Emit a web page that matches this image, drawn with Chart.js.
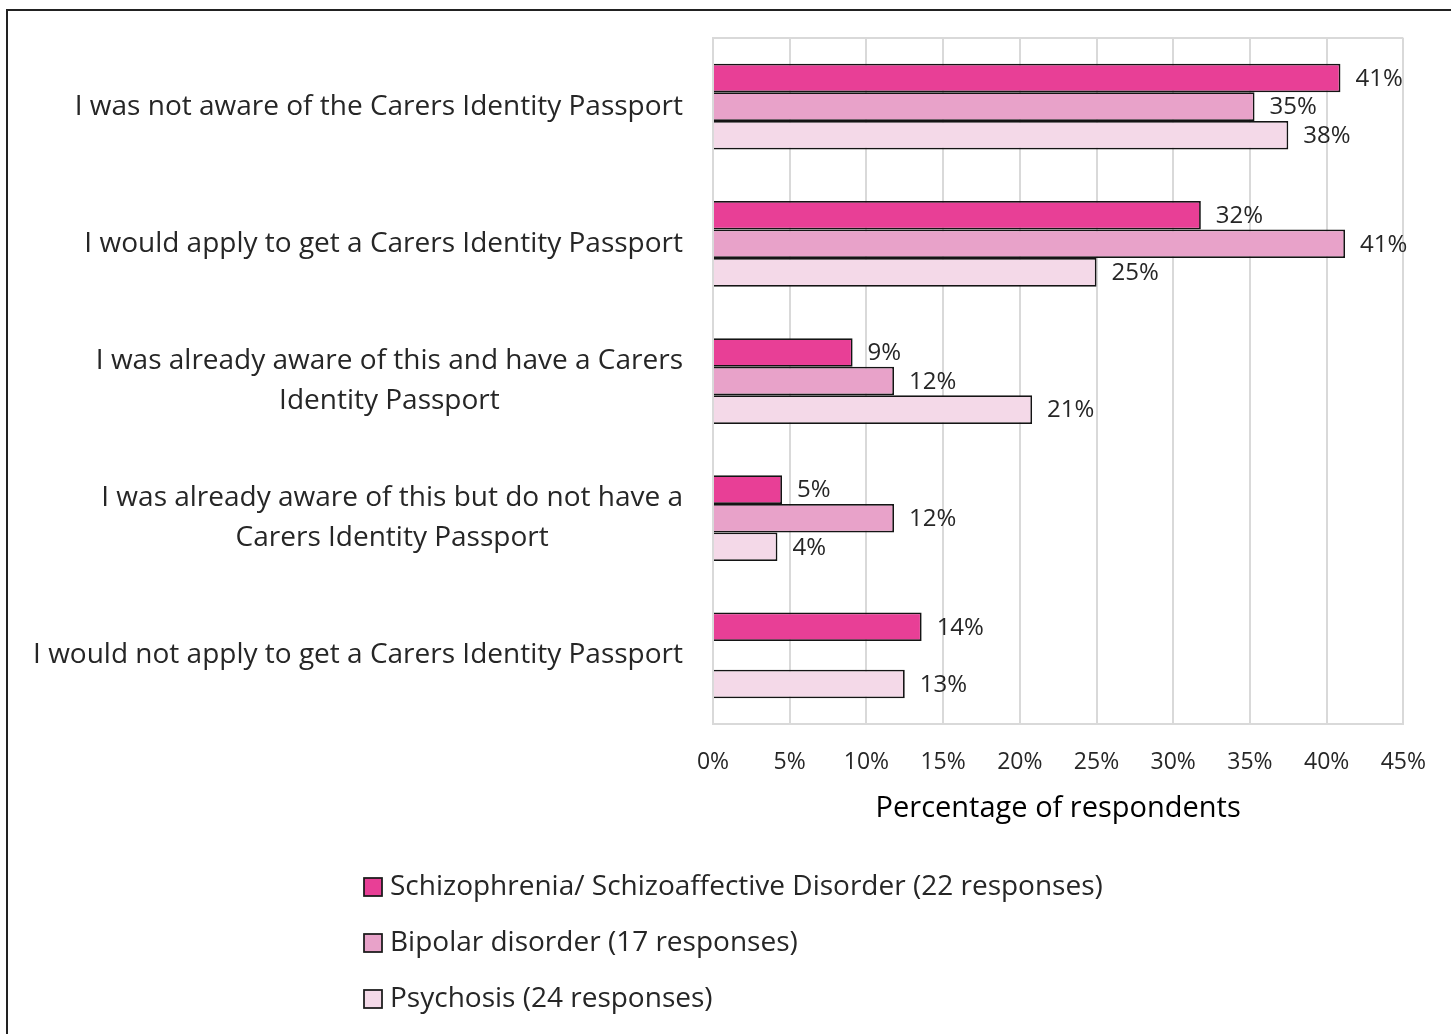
<!DOCTYPE html>
<html lang="en">
<head>
<meta charset="UTF-8">
<title>Carers Identity Passport</title>
<script src="https://cdn.jsdelivr.net/npm/chart.js"></script>
<style>
  body { margin: 0; background: #ffffff; }
  .wrap { position: relative; width: 1451px; height: 1034px; overflow: hidden; }
  .frame { position: absolute; left: 6px; top: 9px; width: 1500px; height: 1100px; border: 2px solid #222222; }
  canvas { position: absolute; left: 0; top: 0; }
</style>
</head>
<body>
<div class="wrap">
  <div class="frame"></div>
  <canvas id="passportChart" width="1451" height="1034"></canvas>
</div>
<script>
// answers, top to bottom; multi-line entries are arrays
const categories = [
  'I was not aware of the Carers Identity Passport',
  'I would apply to get a Carers Identity Passport',
  ['I was already aware of this and have a Carers', 'Identity Passport'],
  ['I was already aware of this but do not have a', 'Carers Identity Passport'],
  'I would not apply to get a Carers Identity Passport'
];

const seriesNames = [
  'Schizophrenia/ Schizoaffective Disorder (22 responses)',
  'Bipolar disorder (17 responses)',
  'Psychosis (24 responses)'
];

// percentage of respondents in each group
const schizophrenia = [40.9, 31.8, 9.1, 4.5, 13.6];
const bipolar = [35.3, 41.2, 11.8, 11.8, null];
const psychosis = [37.5, 25.0, 20.8, 4.2, 12.5];

const xTicks = [0, 5, 10, 15, 20, 25, 30, 35, 40, 45];

const FONT = "'Open Sans', 'Noto Sans', sans-serif";
const TEXT = '#262626';
const GRID = '#d9d9d9';

// grey frame around the plot area (top edge is not drawn by any axis)
const plotFrame = {
  id: 'plotFrame',
  beforeDatasetsDraw(chart) {
    const { ctx, chartArea: a } = chart;
    ctx.save();
    ctx.strokeStyle = GRID;
    ctx.lineWidth = 2;
    ctx.beginPath();
    ctx.moveTo(a.left, a.top);
    ctx.lineTo(a.right, a.top);
    ctx.stroke();
    ctx.restore();
  }
};

// category labels: block right-aligned to the axis, lines centred inside the block
const categoryLabels = {
  id: 'categoryLabels',
  afterDraw(chart) {
    const { ctx, chartArea } = chart;
    const yScale = chart.scales.y;
    const lineHeight = 40;
    ctx.save();
    ctx.font = '28px ' + FONT;
    ctx.fillStyle = TEXT;
    ctx.textAlign = 'center';
    ctx.textBaseline = 'middle';
    chart.data.labels.forEach((label, i) => {
      const lines = Array.isArray(label) ? label : [label];
      const y = yScale.getPixelForTick(i);
      const maxW = Math.max(...lines.map(l => ctx.measureText(l).width));
      const cx = chartArea.left - 30 - maxW / 2;
      lines.forEach((line, k) => {
        ctx.fillText(line, cx, y - (lines.length - 1) * lineHeight / 2 + k * lineHeight);
      });
    });
    ctx.restore();
  }
};

// value labels at the end of each bar
const valueLabels = {
  id: 'valueLabels',
  afterDatasetsDraw(chart) {
    const { ctx } = chart;
    ctx.save();
    ctx.font = '24px ' + FONT;
    ctx.fillStyle = TEXT;
    ctx.textAlign = 'left';
    ctx.textBaseline = 'middle';
    chart.data.datasets.forEach((ds, di) => {
      chart.getDatasetMeta(di).data.forEach((bar, i) => {
        const v = ds.data[i];
        if (v === null) return;
        ctx.fillText(Math.round(v) + '%', bar.x + 15, bar.y + 1);
      });
    });
    ctx.restore();
  }
};

// stacked legend under the axis title
const stackedLegend = {
  id: 'stackedLegend',
  afterDraw(chart, args, opts) {
    const { ctx } = chart;
    ctx.save();
    ctx.font = '28px ' + FONT;
    ctx.textBaseline = 'middle';
    ctx.textAlign = 'left';
    chart.data.datasets.forEach((ds, i) => {
      const y = opts.top + i * opts.spacing;
      ctx.fillStyle = ds.backgroundColor;
      ctx.fillRect(opts.left, y - 9, 18, 18);
      ctx.strokeStyle = '#1a1a1a';
      ctx.lineWidth = 1.75;
      ctx.strokeRect(opts.left, y - 9, 18, 18);
      ctx.fillStyle = TEXT;
      ctx.fillText(ds.label, opts.left + 26, y);
    });
    ctx.restore();
  }
};

const seriesData = [schizophrenia, bipolar, psychosis];
const seriesColors = ['#e83f96', '#e8a2c9', '#f4d9e8'];

new Chart(document.getElementById('passportChart'), {
  type: 'bar',
  data: {
    labels: categories,
    datasets: seriesNames.map((name, i) => ({
      label: name,
      data: seriesData[i],
      backgroundColor: seriesColors[i],
      borderColor: '#141414',
      borderWidth: 1.75,
      categoryPercentage: 0.625,
      barPercentage: 1.0
    }))
  },
  options: {
    indexAxis: 'y',
    responsive: false,
    animation: false,
    devicePixelRatio: 1,
    layout: { padding: { left: 713, right: 46, top: 38, bottom: 200 } },
    plugins: {
      legend: { display: false },
      tooltip: { enabled: false },
      stackedLegend: { left: 364, top: 887, spacing: 56 }
    },
    scales: {
      x: {
        min: 0,
        max: 45,
        afterBuildTicks(scale) {
          scale.ticks = xTicks.map(v => ({ value: v }));
        },
        afterFit(scale) {
          scale.height = 110;
        },
        ticks: {
          callback: v => v + '%',
          color: TEXT,
          font: { family: FONT, size: 23 },
          padding: 25
        },
        grid: { color: GRID, lineWidth: 2, drawTicks: false },
        border: { color: GRID, width: 2 },
        title: {
          display: true,
          text: 'Percentage of respondents',
          color: '#000000',
          font: { family: FONT, size: 29, weight: 500 },
          padding: { top: 0, bottom: 8 }
        }
      },
      y: {
        ticks: { display: false },
        grid: { display: false, drawTicks: false },
        border: { color: GRID, width: 2 }
      }
    }
  },
  plugins: [plotFrame, categoryLabels, valueLabels, stackedLegend]
});
</script>
</body>
</html>
